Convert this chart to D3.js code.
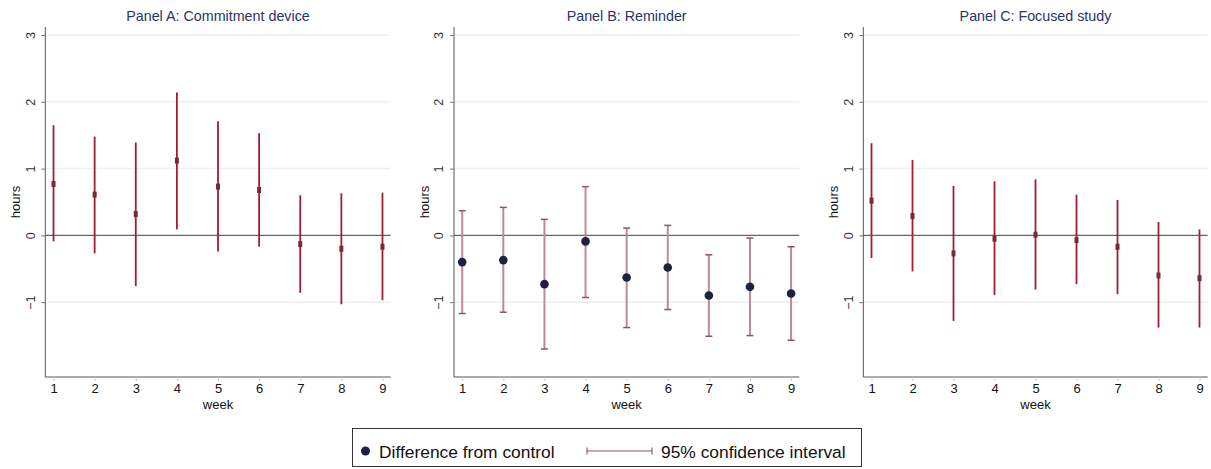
<!DOCTYPE html>
<html><head><meta charset="utf-8">
<script src="https://cdn.jsdelivr.net/npm/d3@7"></script>
<style>body{margin:0;background:#fff}svg{display:block;font-family:"Liberation Sans",Arial,sans-serif}</style>
</head><body><svg id="c" width="1211" height="469"></svg>
<script>
const weeks = [1,2,3,4,5,6,7,8,9];
const yTicks = [-1,0,1,2,3];
const panelTitles = ["Panel A: Commitment device","Panel B: Reminder","Panel C: Focused study"];
const estA = [0.77,0.61,0.32,1.12,0.73,0.68,-0.13,-0.20,-0.17];
const loA  = [-0.09,-0.27,-0.76,0.09,-0.24,-0.17,-0.86,-1.03,-0.97];
const hiA  = [1.65,1.48,1.39,2.14,1.71,1.53,0.60,0.63,0.64];
const estB = [-0.40,-0.37,-0.73,-0.09,-0.63,-0.48,-0.90,-0.77,-0.87];
const loB  = [-1.17,-1.15,-1.70,-0.93,-1.38,-1.11,-1.51,-1.50,-1.57];
const hiB  = [0.37,0.42,0.24,0.73,0.11,0.15,-0.29,-0.04,-0.17];
const estC = [0.52,0.29,-0.27,-0.05,0.01,-0.07,-0.17,-0.60,-0.64];
const loC  = [-0.34,-0.54,-1.28,-0.89,-0.81,-0.73,-0.88,-1.38,-1.38];
const hiC  = [1.38,1.13,0.74,0.81,0.84,0.61,0.53,0.20,0.09];
const legendLabels = ["Difference from control","95% confidence interval"];

const svg = d3.select("#c");
const panels = [
  {x0:45.3, x1:390.7, est:estA, lo:loA, hi:hiA, style:"A"},
  {x0:454,  x1:799.3, est:estB, lo:loB, hi:hiB, style:"B"},
  {x0:863.3,x1:1207.7,est:estC, lo:loC, hi:hiC, style:"A"}
];
const y = d3.scaleLinear().domain([-2.12,3.12]).range([377,27]);

panels.forEach((p,i)=>{
  const x = d3.scaleLinear().domain([0.8,9.2]).range([p.x0,p.x1]);
  const g = svg.append("g");
  g.selectAll(".grid").data(yTicks.filter(v=>v!==0)).join("line")
    .attr("x1",p.x0).attr("x2",p.x1).attr("y1",d=>y(d)).attr("y2",d=>y(d))
    .attr("stroke","#eeeeee").attr("stroke-width",1.5);
  g.append("line").attr("x1",p.x0).attr("x2",p.x1).attr("y1",y(0)).attr("y2",y(0))
    .attr("stroke","#6e6262").attr("stroke-width",1.2);
  const ya = d3.axisLeft(y).tickValues(yTicks).tickSize(4).tickFormat(d3.format("d"));
  const yg = g.append("g").attr("transform",`translate(${p.x0},0)`).call(ya);
  yg.select(".domain").attr("stroke","#555").attr("d",`M0,${y.range()[0]}V${y.range()[1]}`);
  yg.selectAll(".tick line").attr("stroke","#777");
  yg.selectAll(".tick text").attr("x",0).attr("dy",0)
    .attr("transform","translate(-14,0) rotate(-90)").attr("text-anchor","middle")
    .attr("dominant-baseline","middle").attr("font-size",12.5).attr("fill","#333")
    .attr("font-family","Liberation Sans, Arial, sans-serif");
  const xa = d3.axisBottom(x).tickValues(weeks).tickSize(4).tickPadding(3).tickFormat(d3.format("d"));
  const xg = g.append("g").attr("transform",`translate(0,377)`).call(xa);
  xg.select(".domain").attr("stroke","#555").attr("d",`M${p.x0},0H${p.x1}`);
  xg.selectAll(".tick line").attr("stroke","#ccc");
  xg.selectAll(".tick text").attr("font-size",13).attr("fill","#111")
    .attr("font-family","Liberation Sans, Arial, sans-serif");
  const cx = (p.x0+p.x1)/2;
  g.append("text").attr("x",cx).attr("y",21).attr("text-anchor","middle")
    .attr("font-size",14.3).attr("fill","#2a3468").text(panelTitles[i]);
  g.append("text").attr("x",cx).attr("y",409).attr("text-anchor","middle")
    .attr("font-size",13).attr("fill","#111").text("week");
  g.append("text").attr("transform",`translate(${p.x0-28.6},${y(0.5)}) rotate(-90)`)
    .attr("text-anchor","middle").attr("dominant-baseline","middle")
    .attr("font-size",13).attr("fill","#111").text("hours");
  const data = weeks.map((w,j)=>({w, e:p.est[j], lo:p.lo[j], hi:p.hi[j]}));
  if (p.style==="A"){
    g.selectAll(".ci").data(data).join("line")
      .attr("x1",d=>x(d.w)).attr("x2",d=>x(d.w)).attr("y1",d=>y(d.lo)).attr("y2",d=>y(d.hi))
      .attr("stroke","#a11c34").attr("stroke-width",1.8);
    g.selectAll(".pt").data(data).join("rect")
      .attr("x",d=>x(d.w)-2).attr("y",d=>y(d.e)-3).attr("width",4).attr("height",6)
      .attr("fill","#7a2a33");
  } else {
    g.selectAll(".ci").data(data).join("line")
      .attr("x1",d=>x(d.w)).attr("x2",d=>x(d.w)).attr("y1",d=>y(d.lo)).attr("y2",d=>y(d.hi))
      .attr("stroke","#bd8b97").attr("stroke-width",2);
    ["lo","hi"].forEach(k=>{
      g.selectAll(".cap"+k).data(data).join("line")
        .attr("x1",d=>x(d.w)-3.5).attr("x2",d=>x(d.w)+3.5).attr("y1",d=>y(d[k])).attr("y2",d=>y(d[k]))
        .attr("stroke","#8e5564").attr("stroke-width",1.5);
    });
    g.selectAll(".pt").data(data).join("circle")
      .attr("cx",d=>x(d.w)).attr("cy",d=>y(d.e)).attr("r",4.3).attr("fill","#1e2140");
  }
});

const lg = svg.append("g");
lg.append("rect").attr("x",352.5).attr("y",428.5).attr("width",509).attr("height",38)
  .attr("fill","#fff").attr("stroke","#333").attr("stroke-width",1);
lg.append("circle").attr("cx",365.5).attr("cy",451).attr("r",4.5).attr("fill","#1e2140");
lg.append("text").attr("x",379).attr("y",457.5).attr("font-size",17.4).attr("fill","#111").text(legendLabels[0]);
lg.append("line").attr("x1",587).attr("x2",652).attr("y1",451).attr("y2",451).attr("stroke","#9a4a5a").attr("stroke-width",1.2);
[587,652].forEach(xx=>lg.append("line").attr("x1",xx).attr("x2",xx).attr("y1",447.5).attr("y2",454.5).attr("stroke","#6a4a52").attr("stroke-width",1));
lg.append("text").attr("x",661).attr("y",457.5).attr("font-size",17.4).attr("fill","#111").text(legendLabels[1]);
</script></body></html>
